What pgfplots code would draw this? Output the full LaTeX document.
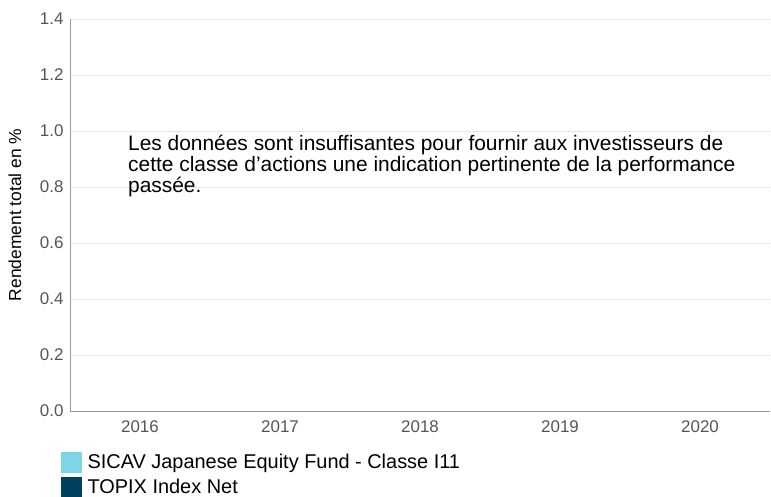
\documentclass[border=0pt]{standalone}
\usepackage{pgfplots}
\pgfplotsset{compat=1.18}
\usepackage{fontspec}
\setmainfont{Liberation Sans}
\definecolor{fundc}{HTML}{7FD4E6}
\definecolor{benchc}{HTML}{00425E}
\definecolor{tickc}{HTML}{555555}
\begin{document}
\begin{tikzpicture}[x=1bp,y=1bp]
\path[use as bounding box] (0,0) rectangle (771,497);
\begin{axis}[
  at={(70bp,86bp)}, anchor=south west,
  scale only axis, width=700bp, height=392bp,
  xmin=-0.5, xmax=4.5, ymin=0, ymax=1.4,
  xtick={0,1,2,3,4}, xticklabels={2016,2017,2018,2019,2020},
  ytick={0,0.2,0.4,0.6,0.8,1.0,1.2,1.4},
  yticklabel style={/pgf/number format/fixed,/pgf/number format/fixed zerofill,/pgf/number format/precision=1},
  /pgf/number format/assume math mode=true,
  major tick length=0pt,
  axis x line*=bottom, axis y line*=left,
  axis line style={color=black!40, line width=0.8bp, -},
  ymajorgrids, grid style={color=black!10, line width=0.8bp},
  tick label style={color=tickc, font=\fontsize{17}{19}\selectfont},
  xticklabel style={yshift=-6bp},
  yticklabel style={xshift=-3bp},
  ylabel={Rendement total en \%},
  ylabel style={at={(axis description cs:0,0.5)}, anchor=center, yshift=55bp, font=\fontsize{17.5}{19}\selectfont, color=black},
  legend style={draw=none, fill=none, inner sep=0pt, at={(-0.0129,-0.1046)}, anchor=north west,
    font=\fontsize{20}{22}\selectfont, cells={anchor=west}, row sep=4bp, column sep=4bp},
  legend image code/.code={\fill[#1] (0bp,-10bp) rectangle (20bp,10bp);},
]
\addlegendimage{fundc, fill=fundc}
\addlegendentry{SICAV Japanese Equity Fund - Classe I11}
\addlegendimage{benchc, fill=benchc}
\addlegendentry{TOPIX Index Net}
\node[anchor=north west, align=left, inner sep=0pt, font=\fontsize{21}{18.5}\selectfont] at (axis cs:-0.086,0.985)
  {Les données sont insuffisantes pour fournir aux investisseurs de\\cette classe d'actions une indication pertinente de la performance\\passée.};
\end{axis}
\end{tikzpicture}
\end{document}
